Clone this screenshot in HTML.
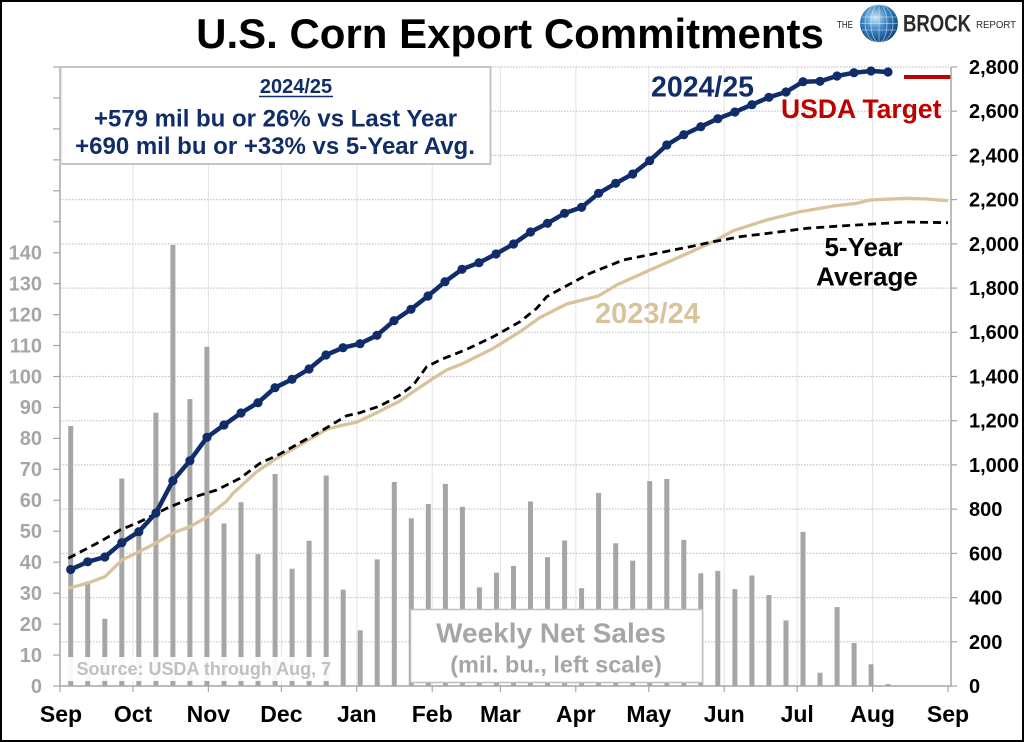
<!DOCTYPE html>
<html><head><meta charset="utf-8"><style>
html,body{margin:0;padding:0;background:#fff;}
svg{display:block;font-family:"Liberation Sans",Arial,sans-serif;font-weight:bold;}
</style></head><body>
<svg width="1024" height="742" viewBox="0 0 1024 742" xmlns="http://www.w3.org/2000/svg">
<rect x="0" y="0" width="1024" height="742" fill="#fff"/>
<!-- vertical gridlines -->
<g stroke="#e3e3e3" stroke-width="1">
<line x1="133" y1="67" x2="133" y2="686"/><line x1="208.4" y1="67" x2="208.4" y2="686"/><line x1="281.4" y1="67" x2="281.4" y2="686"/><line x1="356.8" y1="67" x2="356.8" y2="686"/><line x1="432.2" y1="67" x2="432.2" y2="686"/><line x1="500.4" y1="67" x2="500.4" y2="686"/><line x1="575.8" y1="67" x2="575.8" y2="686"/><line x1="648.8" y1="67" x2="648.8" y2="686"/><line x1="724.2" y1="67" x2="724.2" y2="686"/><line x1="797.2" y1="67" x2="797.2" y2="686"/><line x1="872.6" y1="67" x2="872.6" y2="686"/>
</g>
<!-- horizontal gridlines -->
<g stroke="#c4c4c4" stroke-width="1.2" stroke-dasharray="1.5,1.5">
<line x1="60" y1="641.8" x2="949" y2="641.8"/><line x1="60" y1="597.6" x2="949" y2="597.6"/><line x1="60" y1="553.4" x2="949" y2="553.4"/><line x1="60" y1="509.1" x2="949" y2="509.1"/><line x1="60" y1="464.9" x2="949" y2="464.9"/><line x1="60" y1="420.7" x2="949" y2="420.7"/><line x1="60" y1="376.5" x2="949" y2="376.5"/><line x1="60" y1="332.3" x2="949" y2="332.3"/><line x1="60" y1="288.1" x2="949" y2="288.1"/><line x1="60" y1="243.9" x2="949" y2="243.9"/><line x1="60" y1="199.6" x2="949" y2="199.6"/><line x1="60" y1="155.4" x2="949" y2="155.4"/><line x1="60" y1="111.2" x2="949" y2="111.2"/><line x1="60" y1="67" x2="949" y2="67"/>
</g>
<!-- bars -->
<g fill="#a6a6a6">
<rect x="68.2" y="426" width="5" height="260"/>
<rect x="85.2" y="581.4" width="5" height="104.6"/>
<rect x="102.3" y="618.8" width="5" height="67.2"/>
<rect x="119.3" y="478.6" width="5" height="207.4"/>
<rect x="136.3" y="534.3" width="5" height="151.7"/>
<rect x="153.4" y="412.7" width="5" height="273.3"/>
<rect x="170.4" y="245" width="5" height="441"/>
<rect x="187.4" y="399.1" width="5" height="286.9"/>
<rect x="204.4" y="346.8" width="5" height="339.2"/>
<rect x="221.5" y="523.5" width="5" height="162.5"/>
<rect x="238.5" y="502.2" width="5" height="183.8"/>
<rect x="255.5" y="554.2" width="5" height="131.8"/>
<rect x="272.6" y="474" width="5" height="212"/>
<rect x="289.6" y="568.7" width="5" height="117.3"/>
<rect x="306.6" y="540.8" width="5" height="145.2"/>
<rect x="323.7" y="475.5" width="5" height="210.5"/>
<rect x="340.7" y="589.7" width="5" height="96.3"/>
<rect x="357.7" y="630.3" width="5" height="55.7"/>
<rect x="374.7" y="559.4" width="5" height="126.6"/>
<rect x="391.8" y="482" width="5" height="204"/>
<rect x="408.8" y="518.3" width="5" height="167.7"/>
<rect x="425.8" y="504" width="5" height="182"/>
<rect x="442.9" y="483.9" width="5" height="202.1"/>
<rect x="459.9" y="506.8" width="5" height="179.2"/>
<rect x="476.9" y="587.3" width="5" height="98.7"/>
<rect x="494" y="572.7" width="5" height="113.3"/>
<rect x="511" y="565.9" width="5" height="120.1"/>
<rect x="528" y="501.5" width="5" height="184.5"/>
<rect x="545" y="557.2" width="5" height="128.8"/>
<rect x="562.1" y="540.5" width="5" height="145.5"/>
<rect x="579.1" y="588.2" width="5" height="97.8"/>
<rect x="596.1" y="492.9" width="5" height="193.1"/>
<rect x="613.2" y="543.3" width="5" height="142.7"/>
<rect x="630.2" y="560.7" width="5" height="125.3"/>
<rect x="647.2" y="481.1" width="5" height="204.9"/>
<rect x="664.3" y="478.9" width="5" height="207.1"/>
<rect x="681.3" y="539.9" width="5" height="146.1"/>
<rect x="698.3" y="573.3" width="5" height="112.7"/>
<rect x="715.3" y="570.9" width="5" height="115.1"/>
<rect x="732.4" y="589.1" width="5" height="96.9"/>
<rect x="749.4" y="575.5" width="5" height="110.5"/>
<rect x="766.4" y="595" width="5" height="91"/>
<rect x="783.5" y="620.4" width="5" height="65.6"/>
<rect x="800.5" y="531.9" width="5" height="154.1"/>
<rect x="817.5" y="672.7" width="5" height="13.3"/>
<rect x="834.6" y="607.1" width="5" height="78.9"/>
<rect x="851.6" y="643" width="5" height="43"/>
<rect x="868.6" y="664.3" width="5" height="21.7"/>
<rect x="885.6" y="684" width="5" height="2"/>
</g>
<!-- source box -->
<rect x="62" y="657" width="274" height="24" fill="#fff" fill-opacity="0.92"/>
<text x="76.5" y="675" font-size="18" fill="#c0c0c0">Source: USDA through Aug, 7</text>
<!-- weekly box -->
<rect x="410.5" y="609.5" width="292" height="73" fill="#fff" stroke="#bfbfbf" stroke-width="1.5"/>
<text x="551" y="642.5" font-size="28" fill="#a6a6a6" text-anchor="middle">Weekly Net Sales</text>
<text x="556" y="672.5" font-size="23.5" fill="#a6a6a6" text-anchor="middle">(mil. bu., left scale)</text>
<!-- gold line -->
<polyline fill="none" stroke="#d9c39d" stroke-width="3.3" stroke-linejoin="round" points="68.3,588.3 88,583 105,576.7 122,560 139,551.7 156,543 173,533 190,526.7 207,517 226.7,501 233,493.3 256.7,471.7 276.7,458.3 300,445 326.7,429.3 340,425.7 356.7,422.3 376.7,412.7 400,401 413.3,391.7 433.3,378.3 446.7,370 463.3,363.3 493.3,348.3 520,331.7 540,317.5 566.7,304 598.3,296 616.7,285 650,270 680,256.7 710,243.3 733.3,230.7 766.7,220 800,211.7 833.3,206 856.7,203.3 870,200 906.7,198.3 926.7,199 948,200.7"/>
<!-- dashed 5-yr avg -->
<polyline fill="none" stroke="#000" stroke-width="2.8" stroke-dasharray="8,5" stroke-linejoin="round" points="68.3,558.3 100,541.7 120,530 140,521.7 166.7,508.3 193.3,497.3 216.7,490 240,478.3 260,463.3 280,454 300,442.7 320,431.7 336.7,421.7 346.7,415.7 360,412.7 380,406 400,395 413.3,385 426.7,366.7 440,360 466.7,349.3 493.3,336.7 520,321.7 536.7,308.3 546.7,296.7 560,289.3 590,273.3 623.3,260 656.7,253.3 690,246.7 713.3,241.7 740,236.7 773.3,232.7 806.7,228.3 840,226 873.3,224 906.7,222 948,222.7"/>
<!-- blue line -->
<polyline fill="none" stroke="#102d6a" stroke-width="4.5" stroke-linejoin="round" points="70.7,569.5 87.7,561.8 104.8,557 121.8,542.7 138.8,531.7 155.9,513 172.9,480.7 189.9,460.7 207,437.3 224,425 241,413 258,402.7 275,387.7 292,379.3 309,369 326,355 343,347.7 360,343.7 377,335.3 394,320.7 411,309.3 428,296 445,281.7 462,269.3 479,262.7 496,254 513.5,244 530.5,232 547.5,223.3 564.6,213.3 581.6,207.3 598.6,193.3 615.7,183.3 632.7,174 649.7,160.7 666.8,145 683.8,134.7 700.8,126.7 717.8,118.7 734.9,112 751.9,104.7 768.9,97.3 786,92 803,81.7 820,81.3 837,76 854,72.7 871,71 888,72"/>
<g fill="#102d6a">
<circle cx="70.7" cy="569.5" r="4.6"/><circle cx="87.7" cy="561.8" r="4.6"/><circle cx="104.8" cy="557" r="4.6"/><circle cx="121.8" cy="542.7" r="4.6"/><circle cx="138.8" cy="531.7" r="4.6"/><circle cx="155.9" cy="513" r="4.6"/><circle cx="172.9" cy="480.7" r="4.6"/><circle cx="189.9" cy="460.7" r="4.6"/><circle cx="207" cy="437.3" r="4.6"/><circle cx="224" cy="425" r="4.6"/><circle cx="241" cy="413" r="4.6"/><circle cx="258" cy="402.7" r="4.6"/><circle cx="275" cy="387.7" r="4.6"/><circle cx="292" cy="379.3" r="4.6"/><circle cx="309" cy="369" r="4.6"/><circle cx="326" cy="355" r="4.6"/><circle cx="343" cy="347.7" r="4.6"/><circle cx="360" cy="343.7" r="4.6"/><circle cx="377" cy="335.3" r="4.6"/><circle cx="394" cy="320.7" r="4.6"/><circle cx="411" cy="309.3" r="4.6"/><circle cx="428" cy="296" r="4.6"/><circle cx="445" cy="281.7" r="4.6"/><circle cx="462" cy="269.3" r="4.6"/><circle cx="479" cy="262.7" r="4.6"/><circle cx="496" cy="254" r="4.6"/><circle cx="513.5" cy="244" r="4.6"/><circle cx="530.5" cy="232" r="4.6"/><circle cx="547.5" cy="223.3" r="4.6"/><circle cx="564.6" cy="213.3" r="4.6"/><circle cx="581.6" cy="207.3" r="4.6"/><circle cx="598.6" cy="193.3" r="4.6"/><circle cx="615.7" cy="183.3" r="4.6"/><circle cx="632.7" cy="174" r="4.6"/><circle cx="649.7" cy="160.7" r="4.6"/><circle cx="666.8" cy="145" r="4.6"/><circle cx="683.8" cy="134.7" r="4.6"/><circle cx="700.8" cy="126.7" r="4.6"/><circle cx="717.8" cy="118.7" r="4.6"/><circle cx="734.9" cy="112" r="4.6"/><circle cx="751.9" cy="104.7" r="4.6"/><circle cx="768.9" cy="97.3" r="4.6"/><circle cx="786" cy="92" r="4.6"/><circle cx="803" cy="81.7" r="4.6"/><circle cx="820" cy="81.3" r="4.6"/><circle cx="837" cy="76" r="4.6"/><circle cx="854" cy="72.7" r="4.6"/><circle cx="871" cy="71" r="4.6"/><circle cx="888" cy="72" r="4.6"/>
</g>
<!-- USDA target line -->
<line x1="904" y1="77" x2="951.5" y2="77" stroke="#c00000" stroke-width="4"/>
<!-- axes -->
<g stroke="#a6a6a6" stroke-width="1.5">
<line x1="60" y1="67" x2="60" y2="686"/>
<line x1="951" y1="67" x2="951" y2="686"/>
<line x1="60" y1="686" x2="951" y2="686"/>
</g>
<g stroke="#a6a6a6" stroke-width="1.2">
<line x1="53" y1="686" x2="60" y2="686"/><line x1="53" y1="655.05" x2="60" y2="655.05"/><line x1="53" y1="624.1" x2="60" y2="624.1"/><line x1="53" y1="593.15" x2="60" y2="593.15"/><line x1="53" y1="562.2" x2="60" y2="562.2"/><line x1="53" y1="531.25" x2="60" y2="531.25"/><line x1="53" y1="500.3" x2="60" y2="500.3"/><line x1="53" y1="469.35" x2="60" y2="469.35"/><line x1="53" y1="438.4" x2="60" y2="438.4"/><line x1="53" y1="407.45" x2="60" y2="407.45"/><line x1="53" y1="376.5" x2="60" y2="376.5"/><line x1="53" y1="345.55" x2="60" y2="345.55"/><line x1="53" y1="314.6" x2="60" y2="314.6"/><line x1="53" y1="283.65" x2="60" y2="283.65"/><line x1="53" y1="252.7" x2="60" y2="252.7"/><line x1="53" y1="221.75" x2="60" y2="221.75"/><line x1="53" y1="190.8" x2="60" y2="190.8"/><line x1="53" y1="159.85" x2="60" y2="159.85"/><line x1="53" y1="128.9" x2="60" y2="128.9"/><line x1="53" y1="97.95" x2="60" y2="97.95"/><line x1="53" y1="67" x2="60" y2="67"/>
<line x1="951" y1="686" x2="957" y2="686"/><line x1="951" y1="641.8" x2="957" y2="641.8"/><line x1="951" y1="597.6" x2="957" y2="597.6"/><line x1="951" y1="553.4" x2="957" y2="553.4"/><line x1="951" y1="509.1" x2="957" y2="509.1"/><line x1="951" y1="464.9" x2="957" y2="464.9"/><line x1="951" y1="420.7" x2="957" y2="420.7"/><line x1="951" y1="376.5" x2="957" y2="376.5"/><line x1="951" y1="332.3" x2="957" y2="332.3"/><line x1="951" y1="288.1" x2="957" y2="288.1"/><line x1="951" y1="243.9" x2="957" y2="243.9"/><line x1="951" y1="199.6" x2="957" y2="199.6"/><line x1="951" y1="155.4" x2="957" y2="155.4"/><line x1="951" y1="111.2" x2="957" y2="111.2"/><line x1="951" y1="67" x2="957" y2="67"/>
<line x1="60" y1="686" x2="60" y2="692"/><line x1="133" y1="686" x2="133" y2="692"/><line x1="208.4" y1="686" x2="208.4" y2="692"/><line x1="281.4" y1="686" x2="281.4" y2="692"/><line x1="356.8" y1="686" x2="356.8" y2="692"/><line x1="432.2" y1="686" x2="432.2" y2="692"/><line x1="500.4" y1="686" x2="500.4" y2="692"/><line x1="575.8" y1="686" x2="575.8" y2="692"/><line x1="648.8" y1="686" x2="648.8" y2="692"/><line x1="724.2" y1="686" x2="724.2" y2="692"/><line x1="797.2" y1="686" x2="797.2" y2="692"/><line x1="872.6" y1="686" x2="872.6" y2="692"/><line x1="948" y1="686" x2="948" y2="692"/>
</g>
<!-- left labels -->
<g font-size="20" fill="#a6a6a6" text-anchor="end">
<text x="42" y="693">0</text><text x="42" y="662">10</text><text x="42" y="631">20</text><text x="42" y="600">30</text><text x="42" y="569">40</text><text x="42" y="538">50</text><text x="42" y="507">60</text><text x="42" y="476">70</text><text x="42" y="445">80</text><text x="42" y="414">90</text><text x="42" y="383.5">100</text><text x="42" y="352.5">110</text><text x="42" y="321.5">120</text><text x="42" y="290.5">130</text><text x="42" y="259.5">140</text>
</g>
<!-- right labels -->
<g font-size="20" fill="#000">
<text x="969" y="693">0</text><text x="969" y="649">200</text><text x="969" y="604.5">400</text><text x="969" y="560.5">600</text><text x="969" y="516">800</text><text x="969" y="472">1,000</text><text x="969" y="427.5">1,200</text><text x="969" y="383.5">1,400</text><text x="969" y="339">1,600</text><text x="969" y="295">1,800</text><text x="969" y="251">2,000</text><text x="969" y="206.5">2,200</text><text x="969" y="162.5">2,400</text><text x="969" y="118">2,600</text><text x="969" y="74">2,800</text>
</g>
<!-- month labels -->
<g font-size="23" fill="#000" text-anchor="middle">
<text x="61" y="722">Sep</text><text x="133" y="722">Oct</text><text x="208.4" y="722">Nov</text><text x="281.4" y="722">Dec</text><text x="356.8" y="722">Jan</text><text x="432.2" y="722">Feb</text><text x="500.4" y="722">Mar</text><text x="575.8" y="722">Apr</text><text x="648.8" y="722">May</text><text x="724.2" y="722">Jun</text><text x="797.2" y="722">Jul</text><text x="872.6" y="722">Aug</text><text x="948" y="722">Sep</text>
</g>
<!-- top-left box -->
<rect x="60.5" y="67" width="430" height="97" fill="#fff" stroke="#bfbfbf" stroke-width="1.8"/>
<text x="296" y="93" font-size="20" fill="#102d6a" text-anchor="middle">2024/25</text>
<line x1="259" y1="96.5" x2="333" y2="96.5" stroke="#102d6a" stroke-width="1.6"/>
<text x="275.5" y="126.5" font-size="24" fill="#102d6a" text-anchor="middle">+579 mil bu or 26% vs Last Year</text>
<text x="275" y="154" font-size="24" fill="#102d6a" text-anchor="middle">+690 mil bu or +33% vs 5-Year Avg.</text>
<!-- series labels -->
<text x="651" y="96.5" font-size="28.5" fill="#102d6a">2024/25</text>
<text x="781" y="118" font-size="26.5" fill="#c00000">USDA Target</text>
<text x="595" y="323" font-size="29" fill="#d9c39d">2023/24</text>
<text x="863.5" y="256" font-size="26" fill="#000" text-anchor="middle">5-Year</text>
<text x="867" y="285.5" font-size="26" fill="#000" text-anchor="middle">Average</text>
<!-- title -->
<text x="510" y="48" font-size="42" fill="#000" text-anchor="middle">U.S. Corn Export Commitments</text>
<!-- logo -->
<defs>
<radialGradient id="gl" cx="0.4" cy="0.35" r="0.7">
<stop offset="0" stop-color="#cfe6f7"/><stop offset="0.45" stop-color="#3b86c4"/><stop offset="1" stop-color="#0b3f78"/>
</radialGradient>
</defs>
<text x="837" y="28" font-size="10" font-weight="normal" fill="#222" textLength="16" lengthAdjust="spacingAndGlyphs">THE</text>
<circle cx="879" cy="23.5" r="19" fill="url(#gl)"/>
<g stroke="#ffffff" stroke-opacity="0.55" stroke-width="0.8" fill="none">
<ellipse cx="879" cy="23.5" rx="8" ry="19"/><ellipse cx="879" cy="23.5" rx="14" ry="19"/>
<line x1="879" y1="4.5" x2="879" y2="42.5"/>
<line x1="862" y1="17" x2="896" y2="17"/><line x1="860" y1="23.5" x2="898" y2="23.5"/><line x1="862" y1="30" x2="896" y2="30"/>
</g>
<text x="903" y="31.5" font-size="24" font-weight="bold" fill="#2a2a2a" textLength="68" lengthAdjust="spacingAndGlyphs">BROCK</text>
<text x="976" y="28" font-size="10" font-weight="normal" fill="#2a2a2a" textLength="40" lengthAdjust="spacingAndGlyphs">REPORT</text>
<!-- frame -->
<rect x="1" y="1" width="1022" height="740" fill="none" stroke="#000" stroke-width="2"/>
</svg>
</body></html>
